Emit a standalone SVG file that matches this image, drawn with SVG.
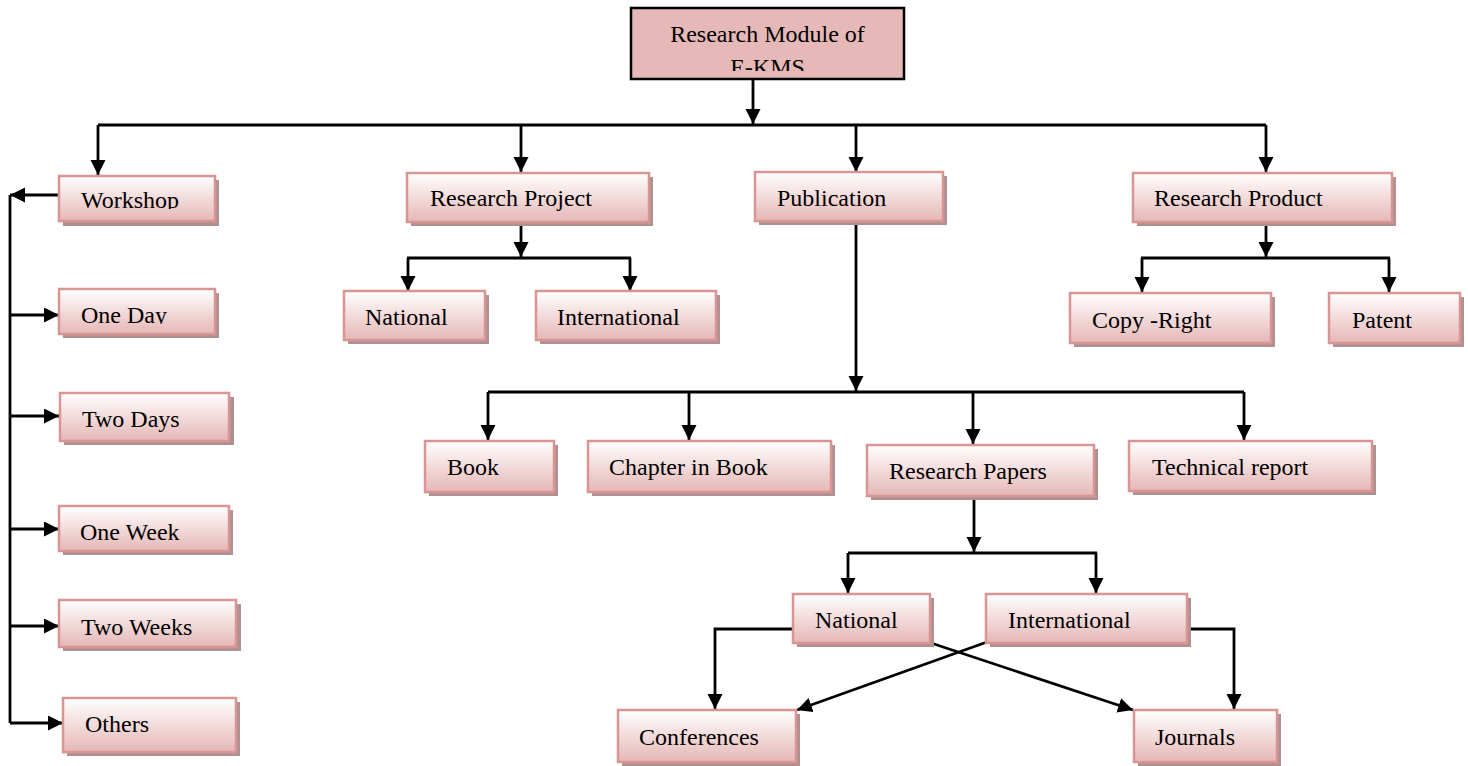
<svg xmlns="http://www.w3.org/2000/svg" width="1468" height="766" viewBox="0 0 1468 766">
<style>
.box{fill:url(#g);stroke:#d99594;stroke-width:2.5}
.sh{fill:#b09192}
.t{font-family:"Liberation Serif","Times New Roman",serif;font-size:24px;fill:#000}
.c{fill:none;stroke:#000;stroke-width:2.8}
.a{marker-end:url(#ah)}
</style>
<defs>
<linearGradient id="g" x1="0" y1="0" x2="0" y2="1">
<stop offset="0" stop-color="#ffffff"/>
<stop offset="1" stop-color="#e5b7b6"/>
</linearGradient>
<marker id="ah" markerUnits="userSpaceOnUse" markerWidth="17" markerHeight="16" refX="15" refY="7.5" orient="auto">
<path d="M0,0 L15,7.5 L0,15 z" fill="#000"/>
</marker>
<clipPath id="cTop"><rect x="631" y="8" width="273" height="63"/></clipPath>
<clipPath id="cWs"><rect x="59" y="176" width="160" height="33"/></clipPath>
<clipPath id="cOd"><rect x="59" y="289" width="160" height="35"/></clipPath>
</defs>

<g id="connectors">
<path class="c a" d="M753,79 V124"/>
<path class="c" d="M98,125 H1266"/>
<path class="c a" d="M98,125 V175"/>
<path class="c a" d="M521,125 V172"/>
<path class="c a" d="M856,125 V172"/>
<path class="c a" d="M1266,125 V172"/>
<path class="c a" d="M59,195 H10"/>
<path class="c" d="M10,195 V723"/>
<path class="c a" d="M10,315 H59"/>
<path class="c a" d="M10,416 H59"/>
<path class="c a" d="M10,529 H59"/>
<path class="c a" d="M10,626 H59"/>
<path class="c a" d="M10,723 H63"/>
<path class="c a" d="M521,222 V257"/>
<path class="c" d="M407,258 H631"/>
<path class="c a" d="M408,258 V291"/>
<path class="c a" d="M630,258 V291"/>
<path class="c a" d="M1266,222 V257"/>
<path class="c" d="M1141,258 H1390"/>
<path class="c a" d="M1142,258 V292"/>
<path class="c a" d="M1389,258 V292"/>
<path class="c a" d="M856,221 V391"/>
<path class="c" d="M488,392 H1244"/>
<path class="c a" d="M488,392 V440"/>
<path class="c a" d="M689,392 V440"/>
<path class="c a" d="M973,392 V444"/>
<path class="c a" d="M1244,392 V440"/>
<path class="c a" d="M974,496 V552"/>
<path class="c" d="M848,553 H1097"/>
<path class="c a" d="M848,553 V593"/>
<path class="c a" d="M1096,553 V593"/>
<path class="c a" d="M793,629 H715 V709"/>
<path class="c a" d="M1187,629 H1234 V709"/>
<path class="c a" d="M928,642 L1133,710"/>
<path class="c a" d="M987,642 L797,710"/>
</g>

<g id="root">
<rect x="631" y="8" width="273" height="71" fill="#e6b9b8" stroke="#000" stroke-width="2.5"/>
<text class="t" x="767.5" y="42" text-anchor="middle">Research Module of</text>
<text class="t" x="767.5" y="75" text-anchor="middle" clip-path="url(#cTop)">E-KMS</text>
</g>

<g id="workshop"><rect class="sh" x="63" y="180" width="156" height="46"/><rect class="box" x="59" y="176" width="156" height="45"/><text class="t" x="81" y="208" clip-path="url(#cWs)">Workshop</text></g>
<g id="oneday"><rect class="sh" x="63" y="293" width="156" height="45"/><rect class="box" x="59" y="289" width="156" height="45"/><text class="t" x="81" y="323" clip-path="url(#cOd)">One Day</text></g>
<g id="twodays"><rect class="sh" x="64" y="397" width="170" height="48"/><rect class="box" x="60" y="393" width="169" height="48"/><text class="t" x="82" y="427">Two Days</text></g>
<g id="oneweek"><rect class="sh" x="63" y="510" width="170" height="45"/><rect class="box" x="59" y="506" width="170" height="45"/><text class="t" x="80" y="540">One Week</text></g>
<g id="twoweeks"><rect class="sh" x="63" y="604" width="178" height="47"/><rect class="box" x="59" y="600" width="177" height="47"/><text class="t" x="81" y="635">Two Weeks</text></g>
<g id="others"><rect class="sh" x="67" y="702" width="173" height="54"/><rect class="box" x="63" y="698" width="173" height="54"/><text class="t" x="85" y="732">Others</text></g>

<g id="researchproject"><rect class="sh" x="411" y="177" width="242" height="49"/><rect class="box" x="407" y="173" width="242" height="49"/><text class="t" x="430" y="206">Research Project</text></g>
<g id="rp-national"><rect class="sh" x="348" y="295" width="141" height="49"/><rect class="box" x="344" y="291" width="141" height="49"/><text class="t" x="365" y="325">National</text></g>
<g id="rp-international"><rect class="sh" x="540" y="295" width="180" height="49"/><rect class="box" x="536" y="291" width="180" height="49"/><text class="t" x="557" y="325">International</text></g>

<g id="publication"><rect class="sh" x="759" y="176" width="188" height="49"/><rect class="box" x="755" y="172" width="188" height="49"/><text class="t" x="777" y="206">Publication</text></g>

<g id="researchproduct"><rect class="sh" x="1137" y="177" width="259" height="49"/><rect class="box" x="1133" y="173" width="259" height="49"/><text class="t" x="1154" y="206">Research Product</text></g>
<g id="copyright"><rect class="sh" x="1074" y="297" width="201" height="50"/><rect class="box" x="1070" y="293" width="201" height="50"/><text class="t" x="1092" y="328">Copy -Right</text></g>
<g id="patent"><rect class="sh" x="1333" y="297" width="131" height="50"/><rect class="box" x="1329" y="293" width="131" height="50"/><text class="t" x="1352" y="328">Patent</text></g>

<g id="book"><rect class="sh" x="429" y="445" width="129" height="51"/><rect class="box" x="425" y="441" width="129" height="51"/><text class="t" x="447" y="475">Book</text></g>
<g id="chapter"><rect class="sh" x="592" y="445" width="243" height="51"/><rect class="box" x="588" y="441" width="243" height="51"/><text class="t" x="609" y="475">Chapter in Book</text></g>
<g id="researchpapers"><rect class="sh" x="871" y="449" width="227" height="51"/><rect class="box" x="867" y="445" width="227" height="51"/><text class="t" x="889" y="479">Research Papers</text></g>
<g id="technical"><rect class="sh" x="1133" y="445" width="243" height="50"/><rect class="box" x="1129" y="441" width="243" height="50"/><text class="t" x="1152" y="475">Technical report</text></g>

<g id="pp-national"><rect class="sh" x="797" y="598" width="137" height="49"/><rect class="box" x="793" y="594" width="137" height="49"/><text class="t" x="815" y="628">National</text></g>
<g id="pp-international"><rect class="sh" x="990" y="598" width="201" height="49"/><rect class="box" x="986" y="594" width="201" height="49"/><text class="t" x="1008" y="628">International</text></g>
<g id="conferences"><rect class="sh" x="622" y="714" width="178" height="52"/><rect class="box" x="618" y="710" width="178" height="52"/><text class="t" x="639" y="745">Conferences</text></g>
<g id="journals"><rect class="sh" x="1138" y="714" width="143" height="52"/><rect class="box" x="1134" y="710" width="143" height="52"/><text class="t" x="1155" y="745">Journals</text></g>
</svg>
